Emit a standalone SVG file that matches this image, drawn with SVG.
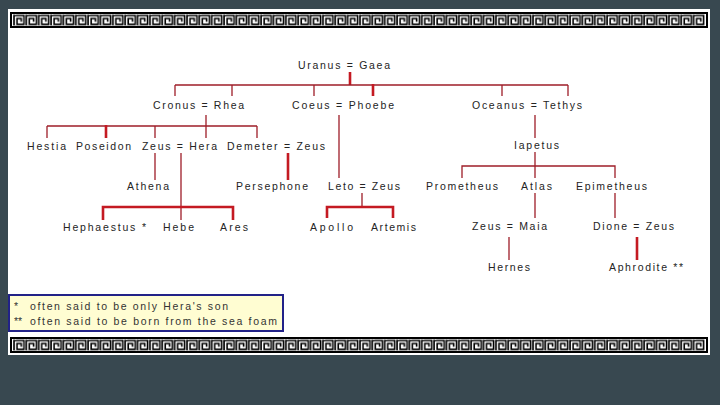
<svg xmlns="http://www.w3.org/2000/svg" xmlns:xlink="http://www.w3.org/1999/xlink" width="720" height="405" viewBox="0 0 720 405">
<defs>
<style>
.lbl{font-family:"Liberation Sans",Arial,sans-serif;font-size:10.5px;fill:#242424;}
.note{font-family:"Liberation Sans",Arial,sans-serif;font-size:10.5px;fill:#333;}
.thin{stroke:#9e1e28;stroke-width:1.3;fill:none;}
.thick{stroke:#c41a22;stroke-width:2.6;fill:none;}
</style>
<pattern id="meander" patternUnits="userSpaceOnUse" x="13" y="14.5" width="12.357" height="11">
<path d="M1,11 V1 H11 V9.9 H4 V4 H8.2 V7.2" stroke="#000" stroke-width="1.6" fill="none"/>
</pattern>
</defs>
<rect x="0" y="0" width="720" height="405" fill="#384850"/>
<rect x="8" y="9" width="702" height="346" fill="#fff"/>
<g id="border-top">
<rect x="11" y="13" width="696" height="14" fill="#fff" stroke="#000" stroke-width="2"/>
<rect x="13" y="14.5" width="692" height="11" fill="url(#meander)"/>
</g>
<use xlink:href="#border-top" href="#border-top" y="325"/>

<g id="connectors">
<path class="thick" d="M350,72 V85"/>
<path class="thin" d="M175,85 H568 M175,85 V96 M232,85 V96 M314,85 V96 M502,85 V96 M568,85 V96"/>
<path class="thick" d="M373,84 V96"/>
<path class="thin" d="M206,115 V126 M47,126 H257 M47,126 V138 M155,126 V138 M206,126 V138 M257,126 V138"/>
<path class="thick" d="M106,125 V138"/>
<path class="thin" d="M155,153 V180 M181,153 V220"/>
<path class="thick" d="M103,220 V207 H233 V220"/>
<path class="thick" d="M288,153 V180"/>
<path class="thin" d="M339,115 V178 M362,193 V207"/>
<path class="thick" d="M327,218 V207 H393 V218"/>
<path class="thin" d="M535,115 V138 M535,152 V178 M462,178 V166 H615 V178 M535,193 V218 M615,193 V218 M509,237 V260"/>
<path class="thick" d="M637,237 V260"/>
</g>

<g id="n-uranus"><text class="lbl" x="298" y="69" textLength="92" lengthAdjust="spacing">Uranus = Gaea</text></g>
<g id="n-cronus"><text class="lbl" x="153" y="109" textLength="91" lengthAdjust="spacing">Cronus = Rhea</text></g>
<g id="n-coeus"><text class="lbl" x="292" y="109" textLength="102" lengthAdjust="spacing">Coeus = Phoebe</text></g>
<g id="n-oceanus"><text class="lbl" x="472" y="109" textLength="110" lengthAdjust="spacing">Oceanus = Tethys</text></g>
<g id="n-hestia"><text class="lbl" x="27" y="150" textLength="39" lengthAdjust="spacing">Hestia</text></g>
<g id="n-poseidon"><text class="lbl" x="76" y="150" textLength="55" lengthAdjust="spacing">Poseidon</text></g>
<g id="n-zeushera"><text class="lbl" x="142" y="150" textLength="75" lengthAdjust="spacing">Zeus = Hera</text></g>
<g id="n-demeter"><text class="lbl" x="227" y="150" textLength="98" lengthAdjust="spacing">Demeter = Zeus</text></g>
<g id="n-iapetus"><text class="lbl" x="514" y="149" textLength="45" lengthAdjust="spacing">Iapetus</text></g>
<g id="n-athena"><text class="lbl" x="127" y="190" textLength="42" lengthAdjust="spacing">Athena</text></g>
<g id="n-persephone"><text class="lbl" x="236" y="190" textLength="72" lengthAdjust="spacing">Persephone</text></g>
<g id="n-leto"><text class="lbl" x="328" y="190" textLength="72" lengthAdjust="spacing">Leto = Zeus</text></g>
<g id="n-prometheus"><text class="lbl" x="426" y="190" textLength="72" lengthAdjust="spacing">Prometheus</text></g>
<g id="n-atlas"><text class="lbl" x="521" y="190" textLength="31" lengthAdjust="spacing">Atlas</text></g>
<g id="n-epimetheus"><text class="lbl" x="576" y="190" textLength="71" lengthAdjust="spacing">Epimetheus</text></g>
<g id="n-hephaestus"><text class="lbl" x="63" y="231" textLength="83" lengthAdjust="spacing">Hephaestus *</text></g>
<g id="n-hebe"><text class="lbl" x="163" y="231" textLength="31" lengthAdjust="spacing">Hebe</text></g>
<g id="n-ares"><text class="lbl" x="220" y="231" textLength="28" lengthAdjust="spacing">Ares</text></g>
<g id="n-apollo"><text class="lbl" x="310" y="231" textLength="43" lengthAdjust="spacing">Apollo</text></g>
<g id="n-artemis"><text class="lbl" x="371" y="231" textLength="45" lengthAdjust="spacing">Artemis</text></g>
<g id="n-zeusmaia"><text class="lbl" x="472" y="230" textLength="75" lengthAdjust="spacing">Zeus = Maia</text></g>
<g id="n-dione"><text class="lbl" x="593" y="230" textLength="81" lengthAdjust="spacing">Dione = Zeus</text></g>
<g id="n-hernes"><text class="lbl" x="488" y="271" textLength="42" lengthAdjust="spacing">Hernes</text></g>
<g id="n-aphrodite"><text class="lbl" x="609" y="271" textLength="74" lengthAdjust="spacing">Aphrodite **</text></g>

<g id="footnote">
<rect x="9" y="295" width="274" height="36" fill="#fffdd2" stroke="#222288" stroke-width="2"/>
<text class="note" x="14" y="310">*</text>
<text class="note" x="30" y="310" textLength="198" lengthAdjust="spacing">often said to be only Hera's son</text>
<text class="note" x="14" y="325">**</text>
<text class="note" x="30" y="325" textLength="247" lengthAdjust="spacing">often said to be born from the sea foam</text>
</g>
</svg>
